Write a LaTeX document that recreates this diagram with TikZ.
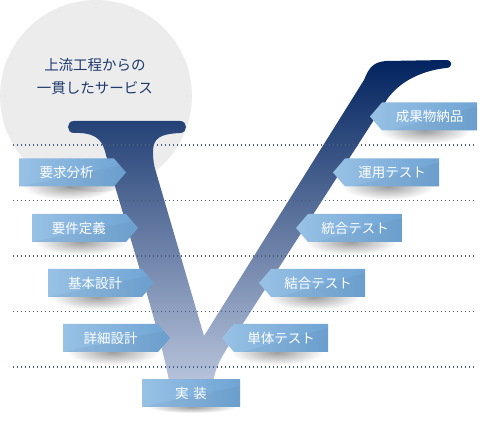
\documentclass[tikz,border=0pt]{standalone}
\usepackage{fontspec}
\newfontfamily\jp{Noto Sans CJK JP}
\usetikzlibrary{fadings}
\definecolor{cgray}{HTML}{ECECEC}
\definecolor{navy}{HTML}{1F3A6C}
\definecolor{vtop}{HTML}{02235F}
\definecolor{vbot}{HTML}{BAC6DD}
\definecolor{bl}{HTML}{98C1E5}
\definecolor{br}{HTML}{6FA4D4}
\definecolor{dotc}{HTML}{4A5B80}
\tikzfading[name=shfade, inner color=transparent!45, outer color=transparent!100]
\tikzset{
  lbl/.style={font=\jp\fontsize{13.5}{14}\selectfont, text=white, inner sep=0pt},
  ttl/.style={font=\jp\fontsize{14.5}{15}\selectfont, text=navy, inner sep=0pt},
  dotline/.style={draw=dotc, line width=1.1pt, dash pattern=on 1.1pt off 2.9pt},
  shadowfill/.style={fill=black!70, path fading=shfade},
  boxfill/.style={left color=bl, right color=br},
  gloss/.style={fill=br!70!black, opacity=0.10}
}
% left-side label: name, xL, xR, ymid, text
\newcommand\lbox[5]{%
  \path[shadowfill] ({#3-45},{#4+14}) ellipse [x radius=46, y radius=13];
  \shade[boxfill] ({#2},{#4-14}) -- ({#3},{#4-14}) -- ({#3+12},{#4}) -- ({#3},{#4+14}) -- ({#2},{#4+14}) -- cycle;
  \fill[gloss] ({#2},{#4+14}) -- ({#3+6},{#4-7}) -- ({#3+12},{#4}) -- ({#3},{#4+14}) -- cycle;
  \node[lbl] (#1) at ({(#2+#3)/2},{#4}) {#5};
}
% right-side label: name, xtip, xR, ymid, text
\newcommand\rbox[5]{%
  \path[shadowfill] ({#2+55},{#4+14}) ellipse [x radius=46, y radius=13];
  \shade[boxfill] ({#2},{#4}) -- ({#2+12},{#4-14}) -- ({#3},{#4-14}) -- ({#3},{#4+14}) -- ({#2+12},{#4+14}) -- cycle;
  \fill[gloss] ({#2+20},{#4+14}) -- ({#3},{#4-10}) -- ({#3},{#4+14}) -- cycle;
  \node[lbl] (#1) at ({(#2+12+#3)/2},{#4}) {#5};
}
\begin{document}
\begin{tikzpicture}[x=1pt,y=-1pt]
\useasboundingbox (0,0) rectangle (480,430);
% background circle
\fill[cgray] (96,96) circle (96);
\node[ttl] (t1) at (95,65) {上流工程からの};
\node[ttl] (t2) at (95,88) {一貫したサービス};
% V shape
\shade[top color=vtop, bottom color=vbot]
 (74,121) -- (180,121) .. controls (188,121) and (188,133) .. (180,133)
 .. controls (160,134) and (153,138) .. (153,152)
 .. controls (153,160) and (154,166) .. (156,172)
 -- (204,336)
 -- (364,80)
 .. controls (369,67) and (374,62) .. (386,61)
 -- (446,60) .. controls (453,60) and (453,68) .. (446,68)
 .. controls (420,71) and (400,82) .. (388,98)
 -- (226,350)
 .. controls (218,363) and (214,372) .. (213,386)
 -- (170,386)
 .. controls (160,330) and (130,240) .. (106,155)
 .. controls (103,142) and (98,134) .. (80,133)
 -- (74,133) .. controls (66,133) and (66,121) .. (74,121) -- cycle;
% dotted guide lines
\foreach \yy in {145,200.5,256,311.5,367}
  \draw[dotline] (13,\yy) -- (476,\yy);
% left labels
\lbox{a1}{19}{114}{172.5}{要求分析}
\lbox{a2}{32}{126}{228}{要件定義}
\lbox{a3}{48}{142}{283}{基本設計}
\lbox{a4}{63}{158}{338}{詳細設計}
% right labels
\rbox{b1}{370}{477}{116.5}{成果物納品}
\rbox{b2}{333}{439}{172.5}{運用テスト}
\rbox{b3}{296}{402}{228}{統合テスト}
\rbox{b4}{259}{365}{283}{結合テスト}
\rbox{b5}{222}{328}{338}{単体テスト}
% bottom label
\path[shadowfill] (192,407) ellipse [x radius=44, y radius=6];
\shade[boxfill] (142,380) rectangle (240,407);
\fill[gloss] (142,407) -- (240,386) -- (240,407) -- cycle;
\node[lbl] (c1) at (191,393.5) {実\hspace{5pt}装};
\end{tikzpicture}
\end{document}
